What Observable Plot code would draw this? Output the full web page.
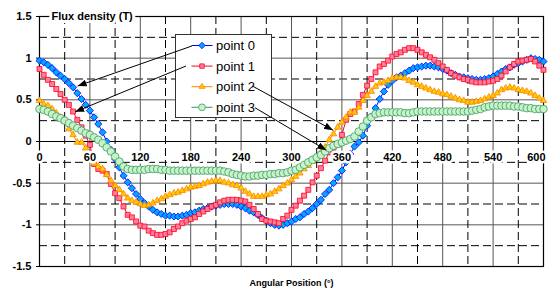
<!DOCTYPE html>
<html><head><meta charset="utf-8">
<script src="https://cdn.jsdelivr.net/npm/d3@7"></script>
<script src="https://cdn.jsdelivr.net/npm/@observablehq/plot@0.6"></script>
<style>
html,body{margin:0;padding:0;background:#fff;}
#chart{width:556px;height:290px;}
</style></head><body><div id="chart"></div>
<script>
// ---- data ----
const angles = [
  0,5,10,15,20,25,30,35,40,45,50,55,
  60,65,70,75,80,85,90,95,100,105,110,115,
  120,125,130,135,140,145,150,155,160,165,170,175,
  180,185,190,195,200,205,210,215,220,225,230,235,
  240,245,250,255,260,265,270,275,280,285,290,295,
  300,305,310,315,320,325,330,335,340,345,350,355,
  360,365,370,375,380,385,390,395,400,405,410,415,
  420,425,430,435,440,445,450,455,460,465,470,475,
  480,485,490,495,500,505,510,515,520,525,530,535,
  540,545,550,555,560,565,570,575,580,585,590,595,
  600];
const point0 = [
  0.97,0.95,0.92,0.88,0.83,0.79,0.75,0.70,0.65,0.58,0.51,0.44,
  0.37,0.29,0.21,0.11,0.00,-0.10,-0.21,-0.31,-0.41,-0.49,-0.56,-0.63,
  -0.69,-0.74,-0.78,-0.82,-0.85,-0.87,-0.89,-0.89,-0.90,-0.90,-0.89,-0.88,
  -0.86,-0.85,-0.83,-0.81,-0.80,-0.78,-0.77,-0.76,-0.75,-0.75,-0.75,-0.76,
  -0.78,-0.80,-0.83,-0.85,-0.88,-0.92,-0.95,-0.98,-1.00,-1.01,-1.00,-0.98,
  -0.96,-0.93,-0.91,-0.87,-0.84,-0.80,-0.75,-0.70,-0.63,-0.58,-0.50,-0.43,
  -0.35,-0.25,-0.15,-0.06,-0.01,0.07,0.19,0.30,0.40,0.51,0.60,0.68,
  0.73,0.77,0.79,0.82,0.85,0.88,0.89,0.90,0.91,0.91,0.90,0.89,
  0.87,0.85,0.82,0.80,0.78,0.77,0.76,0.75,0.74,0.74,0.75,0.76,
  0.78,0.81,0.84,0.87,0.89,0.92,0.94,0.96,0.98,1.00,0.99,0.98,
  0.96];
const point1 = [
  0.87,0.80,0.74,0.69,0.63,0.57,0.50,0.44,0.36,0.26,0.17,0.07,
  -0.04,-0.27,-0.33,-0.35,-0.39,-0.51,-0.62,-0.68,-0.78,-0.88,-0.91,-0.96,
  -1.01,-1.02,-1.07,-1.10,-1.12,-1.12,-1.11,-1.09,-1.05,-1.02,-0.98,-0.95,
  -0.93,-0.91,-0.87,-0.84,-0.81,-0.78,-0.76,-0.73,-0.71,-0.70,-0.70,-0.70,
  -0.71,-0.72,-0.76,-0.81,-0.87,-0.93,-0.95,-0.96,-0.97,-0.98,-0.93,-0.89,
  -0.82,-0.77,-0.71,-0.65,-0.58,-0.49,-0.41,-0.32,-0.23,-0.13,-0.08,-0.04,
  0.08,0.26,0.33,0.36,0.45,0.56,0.67,0.75,0.83,0.90,0.93,0.97,
  1.02,1.05,1.07,1.10,1.12,1.12,1.10,1.07,1.04,1.01,0.98,0.94,
  0.90,0.86,0.82,0.79,0.77,0.75,0.74,0.72,0.71,0.71,0.71,0.72,
  0.73,0.75,0.79,0.84,0.89,0.93,0.96,0.97,0.98,0.99,0.96,0.91,
  0.86];
const point2 = [
  0.49,0.45,0.43,0.39,0.34,0.29,0.24,0.15,0.08,-0.01,-0.01,-0.08,
  -0.17,-0.26,-0.30,-0.33,-0.40,-0.47,-0.53,-0.58,-0.63,-0.68,-0.71,-0.73,
  -0.75,-0.77,-0.76,-0.74,-0.71,-0.69,-0.66,-0.64,-0.62,-0.61,-0.59,-0.57,
  -0.55,-0.54,-0.53,-0.51,-0.49,-0.48,-0.47,-0.47,-0.49,-0.50,-0.52,-0.53,
  -0.56,-0.60,-0.63,-0.66,-0.66,-0.66,-0.64,-0.63,-0.60,-0.57,-0.53,-0.50,
  -0.46,-0.42,-0.38,-0.33,-0.29,-0.24,-0.19,-0.13,-0.07,0.02,0.09,0.17,
  0.23,0.29,0.35,0.35,0.41,0.49,0.55,0.60,0.66,0.70,0.71,0.73,
  0.76,0.77,0.77,0.76,0.73,0.71,0.68,0.66,0.64,0.62,0.60,0.59,
  0.57,0.56,0.54,0.52,0.50,0.49,0.47,0.47,0.48,0.49,0.51,0.53,
  0.55,0.58,0.62,0.64,0.65,0.64,0.62,0.61,0.60,0.58,0.55,0.52,
  0.49];
const point3 = [
  0.39,0.38,0.36,0.33,0.30,0.28,0.25,0.22,0.19,0.16,0.13,0.10,
  0.08,0.05,0.02,-0.02,-0.07,-0.12,-0.18,-0.24,-0.30,-0.33,-0.34,-0.34,
  -0.34,-0.34,-0.33,-0.33,-0.33,-0.34,-0.34,-0.35,-0.35,-0.35,-0.35,-0.35,
  -0.35,-0.35,-0.35,-0.35,-0.35,-0.35,-0.35,-0.35,-0.36,-0.37,-0.39,-0.40,
  -0.41,-0.42,-0.42,-0.41,-0.41,-0.40,-0.40,-0.39,-0.39,-0.38,-0.38,-0.37,
  -0.35,-0.34,-0.31,-0.28,-0.25,-0.22,-0.19,-0.16,-0.12,-0.08,-0.05,-0.03,
  -0.01,0.01,0.03,0.06,0.12,0.18,0.25,0.29,0.33,0.34,0.35,0.35,
  0.35,0.35,0.35,0.34,0.34,0.35,0.36,0.36,0.36,0.36,0.36,0.36,
  0.36,0.36,0.36,0.36,0.36,0.36,0.36,0.37,0.38,0.39,0.41,0.42,
  0.43,0.43,0.43,0.43,0.43,0.42,0.42,0.41,0.40,0.40,0.39,0.39,
  0.39];
const seriesNames = ["point 0", "point 1", "point 2", "point 3"];
const xTickLabels = [0, 60, 120, 180, 240, 300, 360, 420, 480, 540, 600];
const yTickLabels = [-1.5, -1, -0.5, 0, 0.5, 1, 1.5];
const xGridMajor = [60, 120, 180, 240, 300, 360, 420, 480, 540];
const xGridMinor = [30, 90, 150, 210, 270, 330, 390, 450, 510, 570];
const yGridMajor = [-1, -0.5, 0.5, 1];
const yGridMinor = [-1.25, -0.75, -0.25, 0.25, 0.75, 1.25];
// annotation arrows (data units): from legend entry to curve
const arrowFromX = [182, 175, 254, 257];
const arrowFromY = [1.14, 0.90, 0.66, 0.40];
const arrowToX = [46, 43, 350, 342];
const arrowToY = [0.66, 0.35, 0.13, -0.11];
const yTitle = "Flux density (T)";
const xTitle = "Angular Position (°)";

// ---- styles ----
const styles = [
  {line: "#0000ff", fill: "#00a8ff", stroke: "#0000ff", symbol: "diamond2", r: 3.2, d3s: d3.symbolDiamond2},
  {line: "#ff0022", fill: "#ff7f99", stroke: "#ff0022", symbol: "square", r: 2.8, d3s: d3.symbolSquare},
  {line: "#ff8000", fill: "#ffcc00", stroke: "#ff8000", symbol: "triangle", r: 2.4, d3s: d3.symbolTriangle},
  {line: "#339966", fill: "#c8f2c8", stroke: "#3c9c64", symbol: "circle", r: 3.8, d3s: d3.symbolCircle}
];
const values = [point0, point1, point2, point3];
const seriesRows = values.map((vals, k) => angles.map((a, i) => ({angle: a, value: vals[i], name: seriesNames[k]})));

const font = "'Liberation Sans', Arial, Helvetica, sans-serif";

const marks = [
  Plot.gridY(yGridMinor, {stroke: "#000", strokeOpacity: 1, strokeDasharray: "8,4"}),
  Plot.gridY(yGridMajor, {stroke: "#555", strokeOpacity: 1}),
  Plot.gridX(xGridMinor, {stroke: "#000", strokeOpacity: 1, strokeDasharray: "8,4"}),
  Plot.gridX(xGridMajor, {stroke: "#555", strokeOpacity: 1}),
  Plot.ruleY([0], {stroke: "#000", strokeWidth: 1.2}),
  Plot.frame({stroke: "#000", strokeWidth: 1.2}),
  Plot.axisY(yTickLabels, {tickSize: 3, tickPadding: 5, tickFormat: d => String(d), fontWeight: "bold", fontSize: 11, label: null})
];
seriesRows.forEach((rows, k) => {
  const s = styles[k];
  marks.push(Plot.line(rows, {x: "angle", y: "value", stroke: s.line, strokeWidth: 1}));
  marks.push(Plot.dot(rows, {x: "angle", y: "value", symbol: () => s.symbol, r: s.r, fill: s.fill, stroke: s.stroke, strokeWidth: 0.8}));
});
marks.push(
  Plot.text(xTickLabels.filter(v => v < 600), {x: d => d, y: 0, dy: 16, text: d => String(d), fontWeight: "bold", fontSize: 11, fill: "#000", stroke: "#fff", strokeWidth: 5}),
  Plot.text(xTickLabels.filter(v => v >= 600), {x: d => d, y: 0, dy: 16, dx: 2, textAnchor: "end", text: d => String(d), fontWeight: "bold", fontSize: 11, fill: "#000", stroke: "#fff", strokeWidth: 5}),
  Plot.text([yTitle], {frameAnchor: "top-left", dx: 12, textAnchor: "start", lineAnchor: "middle", text: d => d, fontWeight: "bold", fontSize: 11, fill: "#000", stroke: "#fff", strokeWidth: 6}),
  Plot.text([xTitle], {frameAnchor: "bottom", dy: 17, lineAnchor: "middle", text: d => d, fontWeight: "bold", fontSize: 9, fill: "#000"})
);

const plot = Plot.plot({
  width: 556, height: 290,
  marginLeft: 39, marginRight: 13, marginTop: 16, marginBottom: 24,
  style: {fontFamily: font, background: "#fff", overflow: "visible"},
  x: {domain: [0, 600], axis: null},
  y: {domain: [-1.5, 1.5], axis: null},
  marks
});
document.getElementById("chart").appendChild(plot);

// ---- legend + annotation arrows ----
const xs = plot.scale("x"), ys = plot.scale("y");
const svg = d3.select(plot);
const defs = svg.append("defs");
defs.append("marker").attr("id", "ahead").attr("markerUnits", "userSpaceOnUse")
  .attr("markerWidth", 9).attr("markerHeight", 7).attr("refX", 9).attr("refY", 3.5).attr("orient", "auto")
  .append("path").attr("d", "M0,0L9,3.5L0,7Z").attr("fill", "#000");

const lg = {x: 175.5, y: 34.5, w: 96, h: 83, row0: 11, rowStep: 20.6};
svg.append("rect").attr("x", lg.x).attr("y", lg.y).attr("width", lg.w).attr("height", lg.h)
  .attr("fill", "#fff").attr("stroke", "#333").attr("stroke-width", 1);

const ag = svg.append("g");
arrowFromX.forEach((_, i) => {
  ag.append("line")
    .attr("x1", xs.apply(arrowFromX[i])).attr("y1", ys.apply(arrowFromY[i]))
    .attr("x2", xs.apply(arrowToX[i])).attr("y2", ys.apply(arrowToY[i]))
    .attr("stroke", "#000").attr("stroke-width", 1).attr("marker-end", "url(#ahead)");
});

const items = svg.append("g").attr("text-anchor", "start");
seriesNames.forEach((name, k) => {
  const s = styles[k];
  const cy = lg.y + lg.row0 + k * lg.rowStep;
  items.append("line").attr("x1", lg.x + 16).attr("x2", lg.x + 37).attr("y1", cy).attr("y2", cy)
    .attr("stroke", s.line).attr("stroke-width", 1);
  items.append("path").attr("transform", `translate(${lg.x + 26.5},${cy})`)
    .attr("d", d3.symbol().type(s.d3s).size(Math.PI * s.r * s.r * 0.8)())
    .attr("fill", s.fill).attr("stroke", s.stroke).attr("stroke-width", 0.8);
  items.append("text").attr("x", lg.x + 40.5).attr("y", cy).attr("dy", "0.35em")
    .attr("text-anchor", "start")
    .attr("font-family", font).attr("font-size", 13).attr("fill", "#000").text(name);
});
</script></body></html>
